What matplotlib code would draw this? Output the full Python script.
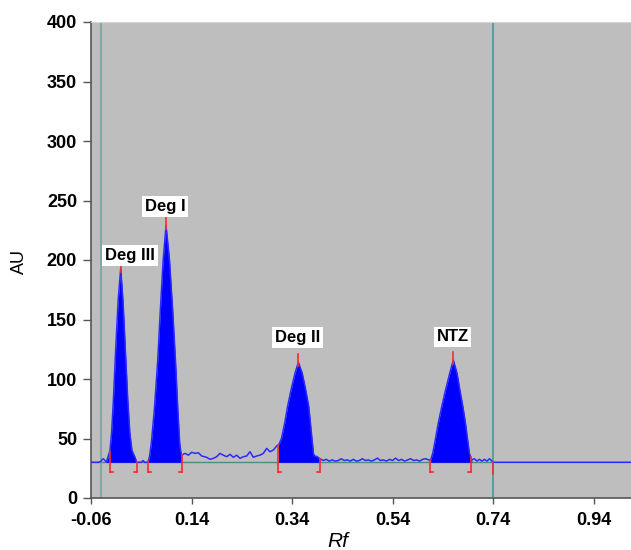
from matplotlib import pyplot as plt
import numpy as np

# densitogram values (Rf, AU)
baseline = 30

lead_rf = [-0.060, -0.045, -0.040, -0.036, -0.033, -0.0295]
lead_au = [30, 30, 31, 33, 32, 30]

deg3_rf = [-0.0295, -0.0265, -0.0222, -0.0190, -0.0155, -0.0110, -0.0060, -0.0009,
           0.0036, 0.0085, 0.0132, 0.0172, 0.0215, 0.0278, 0.0309]
deg3_au = [30, 34, 40, 55, 82, 124, 166, 193, 166, 124, 82, 55, 40, 34, 30]

gap1_rf = [0.0309, 0.036, 0.040, 0.0435, 0.047, 0.0535]
gap1_au = [30, 30, 30, 31.5, 30, 30]

deg1_rf = [0.0535, 0.0565, 0.0600, 0.0660, 0.0728, 0.0780, 0.0836, 0.0893,
           0.0962, 0.1025, 0.1080, 0.1128, 0.1165, 0.1190, 0.1205]
deg1_au = [30, 35, 46, 74, 116, 158, 200, 229, 200, 158, 116, 74, 46, 38, 36]

noise1_rf = [0.1205, 0.1271, 0.1337, 0.1404, 0.147, 0.1536, 0.1603, 0.1702, 0.1768,
             0.1835, 0.1901, 0.1967, 0.2033, 0.21, 0.2166, 0.2233, 0.2299, 0.2365,
             0.2431, 0.2498, 0.2564, 0.263, 0.2697, 0.2763, 0.2829, 0.2896, 0.2962,
             0.3028, 0.3095, 0.3128]
noise1_au = [36, 37.5, 36, 38.4, 37.5, 38, 35.3, 34.2, 32.5, 33.3, 34.7, 37.5, 36,
             34.7, 36.7, 34.2, 36, 33.3, 34.7, 35.3, 38.9, 34.2, 35.3, 36, 37.5,
             41.7, 38.9, 40.3, 43.7, 44.5]

deg2_rf = [0.3128, 0.3150, 0.3190, 0.3255, 0.3312, 0.3382, 0.3460, 0.3526, 0.3603,
           0.3672, 0.3733, 0.3766, 0.3798, 0.3815, 0.3828, 0.3858, 0.3891, 0.3925, 0.3957]
deg2_au = [44.5, 46, 50, 63, 77, 91, 105, 114, 105, 91, 77, 63, 49, 43, 37, 35, 35, 34, 33]

noise2_rf = [0.3957, 0.402, 0.408, 0.414, 0.420, 0.426, 0.432, 0.438, 0.444, 0.450,
             0.456, 0.462, 0.468, 0.474, 0.480, 0.486, 0.492, 0.498, 0.504, 0.510,
             0.516, 0.522, 0.528, 0.534, 0.540, 0.546, 0.552, 0.558, 0.564, 0.570,
             0.576, 0.582, 0.588, 0.594, 0.600, 0.606, 0.612, 0.6160]
noise2_au = [33, 31.5, 32.5, 31, 32, 31, 31.5, 33, 31.5, 32, 31, 32.5, 31, 31.5, 33,
             31.5, 32, 31, 32, 33.5, 31.5, 32, 31, 32.5, 31.5, 33.5, 31.5, 32.5, 31,
             32, 33, 31.5, 32, 31, 32.5, 33, 32, 32]

ntz_rf = [0.6160, 0.6200, 0.6250, 0.6310, 0.6380, 0.6455, 0.6540, 0.661, 0.6683,
          0.6740, 0.6800, 0.6852, 0.6896, 0.6930, 0.6977]
ntz_au = [32, 37.5, 48.7, 62.8, 76.8, 90.8, 105, 116, 105, 90.8, 76.8, 62.8, 48.7, 37.5, 32]

tail_rf = [0.6977, 0.703, 0.708, 0.713, 0.718, 0.723, 0.728, 0.733, 0.738, 0.740, 1.02]
tail_au = [32, 33, 31, 32.5, 31, 32.5, 31, 33, 31, 30, 30]

peak_names = ["Deg III", "Deg I", "Deg II", "NTZ"]
peak_rf = [-0.0009, 0.0893, 0.3526, 0.661]
peak_au = [193, 229, 114, 116]
label_rf = [0.0176, 0.0873, 0.351, 0.6594]
label_au = [203.7, 244.8, 134.9, 135.3]
start_rf = [-0.023, 0.054, 0.3128, 0.6146]
end_rf = [0.031, 0.1205, 0.3957, 0.6956]

marker_lines = [-0.0407, 0.74]
xticks = [-0.06, 0.14, 0.34, 0.54, 0.74, 0.94]
xtick_labels = ["-0.06", "0.14", "0.34", "0.54", "0.74", "0.94"]
yticks = [0, 50, 100, 150, 200, 250, 300, 350, 400]

plt.rcParams['font.family'] = ['Liberation Sans', 'DejaVu Sans']

fig = plt.figure(figsize=(6.31, 5.5), dpi=100)
ax = fig.add_axes([91/631, 1 - 498/550, 540/631, 476/550])
ax.set_facecolor('#bebebe')

# full trace
rf = np.concatenate([lead_rf, deg3_rf, gap1_rf, deg1_rf, noise1_rf, deg2_rf, noise2_rf, ntz_rf, tail_rf])
au = np.concatenate([lead_au, deg3_au, gap1_au, deg1_au, noise1_au, deg2_au, noise2_au, ntz_au, tail_au])

# filled peaks
for prf, pau in [(deg3_rf, deg3_au), (deg1_rf, deg1_au), (deg2_rf, deg2_au), (ntz_rf, ntz_au)]:
    ax.fill_between(prf, baseline, pau, color='#0000ff', linewidth=0, zorder=3)

ax.plot([-0.06, 0.74], [baseline, baseline], color='#4f8c80', lw=1.0, zorder=2)
ax.plot(rf, au, color='#2a2aff', lw=1.1, zorder=4)

for m, c in zip(marker_lines, ['#7fa3a6', '#4a9ea0']):
    ax.axvline(m, color=c, lw=1.3, zorder=1)
ax.plot([0.74, 0.74], [20, baseline], color='#ff2a2a', lw=1.2, zorder=5)

# integration brackets
foot = 0.006
for s in start_rf:
    a = np.interp(s, rf, au)
    ax.plot([s, s], [21.5, a], color='#ff2a2a', lw=1.2, zorder=5)
    ax.plot([s, s + foot], [21.5, 21.5], color='#ff2a2a', lw=1.2, zorder=5)
for e in end_rf:
    a = np.interp(e, rf, au)
    ax.plot([e, e], [21.5, a], color='#ff2a2a', lw=1.2, zorder=5)
    ax.plot([e - foot, e], [21.5, 21.5], color='#ff2a2a', lw=1.2, zorder=5)

# apex ticks and labels
for name, prf, pau, lrf, lau in zip(peak_names, peak_rf, peak_au, label_rf, label_au):
    ax.plot([prf, prf], [pau - 3, pau + 7], color='#ff2a2a', lw=1.2, zorder=5)
    ax.text(lrf, lau, name, ha='center', va='center', fontsize=12, fontweight='bold',
            zorder=6, bbox=dict(facecolor='white', edgecolor='none', pad=2.0))

ax.set_xlim(-0.06, 1.0146)
ax.set_ylim(0, 400)
ax.set_xticks(xticks)
ax.set_xticklabels(xtick_labels)
ax.set_yticks(yticks)
ax.tick_params(axis='x', length=4, width=1, color='#555555', pad=6, labelsize=13)
ax.tick_params(axis='y', length=6, width=1, color='#555555', pad=4, labelsize=13)
for lab in ax.get_xticklabels() + ax.get_yticklabels():
    lab.set_fontweight('bold')

ax.spines['right'].set_visible(False)
ax.spines['top'].set_color('#d5d5d5')
ax.spines['left'].set_color('#555555')
ax.spines['bottom'].set_color('#555555')
ax.spines['left'].set_linewidth(1.2)
ax.spines['bottom'].set_linewidth(1.2)

fig.text(19/631, 1 - 262/550, "AU", rotation=90, ha='center', va='center', fontsize=13)
fig.text(338/631, 1 - 532/550, "Rf", ha='center', va='top', fontsize=15, style='italic')

fig.savefig("out.png", dpi=100)
